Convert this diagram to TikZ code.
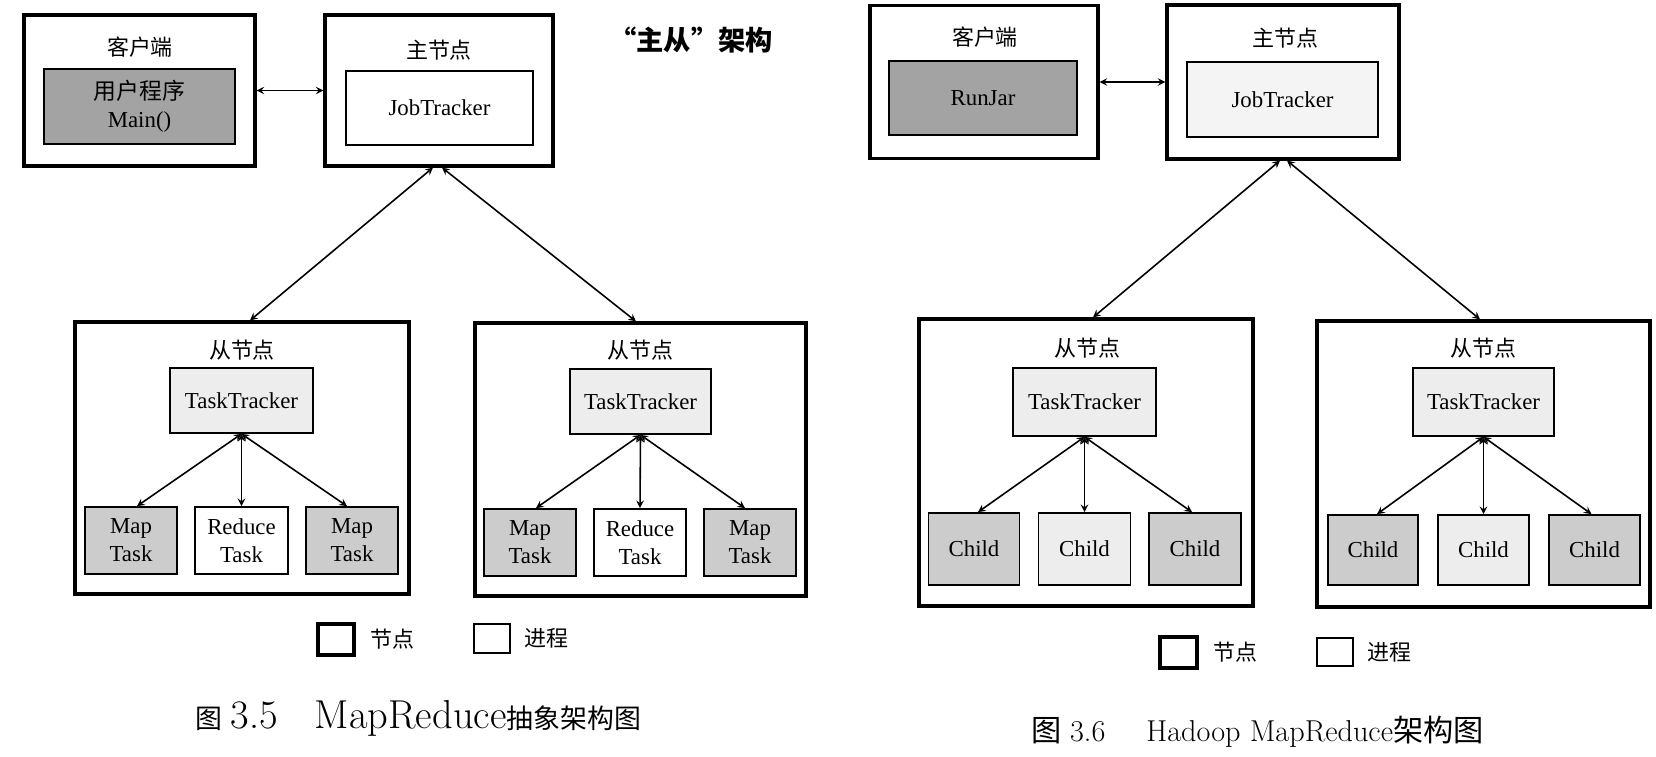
\documentclass[tikz,border=0pt]{standalone}
\usepackage{fontspec}
\newfontfamily\tnr{Liberation Serif}
\newfontfamily\cjk{Noto Sans CJK SC}
\usetikzlibrary{calc, positioning}
\definecolor{darkproc}{gray}{0.64}
\definecolor{midproc}{gray}{0.80}
\definecolor{lightproc}{gray}{0.93}
\newcommand{\capzh}[2]{{\cjk\fontsize{#1}{22}\selectfont #2}}

\begin{document}
\begin{tikzpicture}[>=stealth,
  wh/.style 2 args={minimum width=#1cm, minimum height=#2cm, inner sep=0pt},
  nodebox/.style={draw, line width=1.8pt},
  procbox/.style={draw, line width=1pt, align=center, font=\tnr\fontsize{13}{16}\selectfont},
  zh/.style={font=\cjk\fontsize{12.5}{15}\selectfont},
  link/.style={<->, line width=0.9pt}]
\fill[white] (0,0) rectangle (33.12,15.12);

% MapReduce abstract architecture
\node[nodebox, wh={4.62}{3.02}] (clientL) at (2.79,13.31) {};
\node[zh] at (2.80,14.18) {客户端};
\node[procbox, fill=darkproc, wh={3.82}{1.50}] (mainL) at (2.79,12.99) {{\cjk 用户程序}\\Main()};
\node[nodebox, wh={4.56}{3.02}] (masterL) at (8.78,13.31) {};
\node[zh] at (8.78,14.12) {主节点};
\node[procbox, fill=white, wh={3.74}{1.48}] (jtL) at (8.79,12.96) {JobTracker};
\node[font=\cjk\bfseries\fontsize{15.5}{16}\selectfont] (noteL) at (13.82,14.32) {“主从”架构};

\node[nodebox, wh={6.68}{5.44}] (slaveL1) at (4.84,5.96) {};
\node[zh] at (4.84,8.12) {从节点};
\node[procbox, fill=lightproc, wh={2.86}{1.30}] (ttL1) at (4.83,7.11) {TaskTracker};
\node[procbox, fill=midproc, wh={1.84}{1.34}] (mapL1) at (2.62,4.31) {Map\\Task};
\node[procbox, fill=white, wh={1.86}{1.34}] (redL1) at (4.83,4.31) {Reduce\\Task};
\node[procbox, fill=midproc, wh={1.84}{1.34}] (mapL2) at (7.04,4.31) {Map\\Task};

\node[nodebox, wh={6.62}{5.46}] (slaveL2) at (12.81,5.93) {};
\node[zh] at (12.81,8.12) {从节点};
\node[procbox, fill=lightproc, wh={2.82}{1.30}] (ttL2) at (12.81,7.09) {TaskTracker};
\node[procbox, fill=midproc, wh={1.84}{1.34}] (mapL3) at (10.60,4.27) {Map\\Task};
\node[procbox, fill=white, wh={1.84}{1.34}] (redL2) at (12.80,4.27) {Reduce\\Task};
\node[procbox, fill=midproc, wh={1.84}{1.34}] (mapL4) at (15.00,4.27) {Map\\Task};

\draw[link] (clientL.east) -- (masterL.west);
\draw[link] ($(masterL.south)+(-0.12,0)$) -- ($(slaveL1.north)+(0.16,0)$);
\draw[link] ($(masterL.south)+(0.06,0)$) -- ($(slaveL2.north)+(-0.09,0)$);
\draw[link] (ttL1.south) -- ($(mapL1.north)+(0.12,0)$);
\draw[link] (ttL1.south) -- (redL1.north);
\draw[link] (ttL1.south) -- ($(mapL2.north)+(-0.10,0)$);
\draw[link] (ttL2.south) -- ($(mapL3.north)+(0.12,0)$);
\draw[link] (ttL2.south) -- (redL2.north);
\draw[link] (ttL2.south) -- ($(mapL4.north)+(-0.10,0)$);

\node[nodebox, wh={0.72}{0.62}] (keyNodeL) at (6.72,2.33) {};
\node[zh, right=0.17cm of keyNodeL] {节点};
\node[draw, line width=0.9pt, wh={0.72}{0.58}] (keyProcL) at (9.84,2.35) {};
\node[zh, right=0.15cm of keyProcL] {进程};
\node[anchor=west, inner sep=0pt, font=\fontsize{23}{24}\selectfont] (capL) at (3.90,0.76)
  {\capzh{15.3}{图}\hspace{0.17cm}3.5\hspace{0.74cm}MapReduce\capzh{15.3}{抽象架构图}};

% Hadoop MapReduce architecture
\node[nodebox, wh={4.56}{3.06}] (clientR) at (19.68,13.48) {};
\node[zh] at (19.70,14.38) {客户端};
\node[procbox, fill=darkproc, wh={3.76}{1.48}] (jarR) at (19.66,13.16) {RunJar};
\node[nodebox, wh={4.64}{3.08}] (masterR) at (25.66,13.48) {};
\node[zh] at (25.70,14.36) {主节点};
\node[procbox, fill=lightproc!60!white, wh={3.82}{1.50}] (jtR) at (25.65,13.13) {JobTracker};

\node[nodebox, wh={6.68}{5.74}] (slaveR1) at (21.72,5.87) {};
\node[zh] at (21.74,8.16) {从节点};
\node[procbox, fill=lightproc, wh={2.86}{1.36}] (ttR1) at (21.69,7.08) {TaskTracker};
\node[procbox, fill=midproc, wh={1.82}{1.44}] (chR1) at (19.48,4.14) {Child};
\node[procbox, fill=lightproc, wh={1.84}{1.44}] (chR2) at (21.69,4.14) {Child};
\node[procbox, fill=midproc, wh={1.84}{1.44}] (chR3) at (23.90,4.14) {Child};

\node[nodebox, wh={6.66}{5.72}] (slaveR2) at (29.67,5.84) {};
\node[zh] at (29.67,8.16) {从节点};
\node[procbox, fill=lightproc, wh={2.82}{1.36}] (ttR2) at (29.67,7.08) {TaskTracker};
\node[procbox, fill=midproc, wh={1.80}{1.40}] (chR4) at (27.46,4.12) {Child};
\node[procbox, fill=lightproc, wh={1.82}{1.40}] (chR5) at (29.67,4.12) {Child};
\node[procbox, fill=midproc, wh={1.82}{1.40}] (chR6) at (31.89,4.12) {Child};

\draw[link] (clientR.east) -- (masterR.west);
\draw[link] ($(masterR.south)+(-0.06,0)$) -- ($(slaveR1.north)+(0.14,0)$);
\draw[link] ($(masterR.south)+(0.08,0)$) -- ($(slaveR2.north)+(-0.07,0)$);
\draw[link] (ttR1.south) -- ($(chR1.north)+(0.08,0)$);
\draw[link] (ttR1.south) -- (chR2.north);
\draw[link] (ttR1.south) -- ($(chR3.north)+(-0.06,0)$);
\draw[link] (ttR2.south) -- ($(chR4.north)+(0.08,0)$);
\draw[link] (ttR2.south) -- (chR5.north);
\draw[link] (ttR2.south) -- ($(chR6.north)+(-0.06,0)$);

\node[nodebox, wh={0.74}{0.62}] (keyNodeR) at (23.57,2.07) {};
\node[zh, right=0.17cm of keyNodeR] {节点};
\node[draw, line width=0.9pt, wh={0.72}{0.56}] (keyProcR) at (26.70,2.08) {};
\node[zh, right=0.15cm of keyProcR] {进程};
\node[anchor=west, inner sep=0pt, font=\fontsize{17.2}{20}\selectfont] (capR) at (20.62,0.48)
  {\capzh{17.2}{图}\hspace{0.17cm}3.6\hspace{0.82cm}Hadoop MapReduce\capzh{17.2}{架构图}};
\end{tikzpicture}
\end{document}
